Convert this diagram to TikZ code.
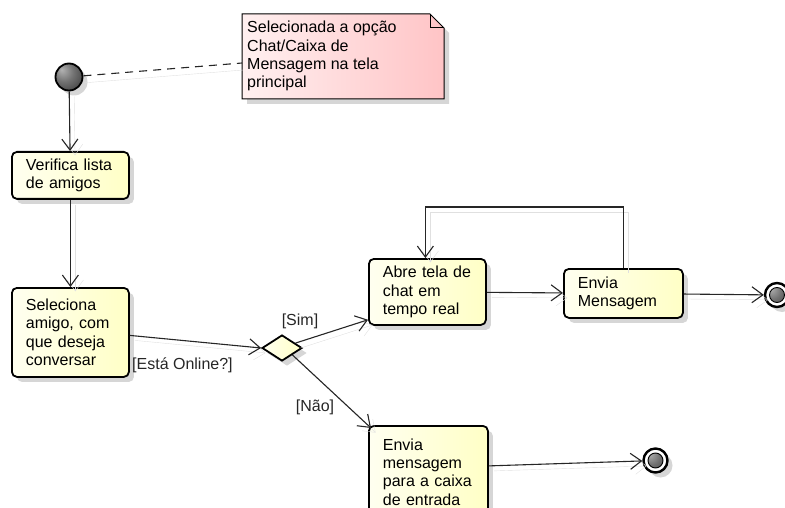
\documentclass[tikz,border=0pt]{standalone}
\usepackage{fontspec}
\setmainfont{Liberation Sans}
\usetikzlibrary{arrows.meta,shapes.geometric,shadows}

\definecolor{actLeft}{RGB}{255,255,240}
\definecolor{actRight}{RGB}{255,255,198}
\definecolor{noteLeft}{RGB}{255,240,240}
\definecolor{noteRight}{RGB}{255,196,198}

% grey sphere lit from the upper left, without a white highlight
\pgfdeclareradialshading{greyball}{\pgfpoint{-14bp}{14bp}}{%
  color(0bp)=(black!30);
  color(18bp)=(black!55);
  color(42bp)=(black!80);
  color(60bp)=(black!88)}

\begin{document}
\begin{tikzpicture}[x=1pt,y=-1pt,
  font=\fontsize{16}{18.4}\selectfont,
  softshadow/.style={drop shadow={shadow xshift=5pt,shadow yshift=-5pt,fill=black!16,opacity=1}},
  action/.style={draw=black,line width=1.8pt,rounded corners=5pt,
    left color=actLeft,right color=actRight,softshadow,
    align=left,inner xsep=14pt,inner ysep=0pt,anchor=north west},
  decision/.style={diamond,draw=black,line width=1.8pt,inner sep=0pt,
    minimum width=40pt,minimum height=26pt,
    left color=actLeft,right color=actRight,softshadow},
  initial/.style={circle,draw=black,line width=1.8pt,inner sep=0pt,
    minimum size=27pt,shading=greyball,softshadow},
  final/.style={circle,draw=black,line width=2.4pt,inner sep=0pt,
    minimum size=24pt,fill=white,softshadow,
    path picture={\shade[shading=greyball]
      (path picture bounding box.center) circle (7.5pt);
      \draw[line width=0.9pt] (path picture bounding box.center) circle (7.5pt);}},
  flow/.style={draw=black!85,line width=1.1pt,
    -{Straight Barb[length=11pt,width=16pt]},
    preaction={draw=black!12,solid,transform canvas={shift={(5pt,-5pt)}}}},
  anchorline/.style={draw=black!85,line width=1.1pt,dash pattern=on 8pt off 6pt,
    preaction={draw=black!12,solid,transform canvas={shift={(1pt,-7pt)}}}},
  guard/.style={inner sep=0pt,text=black!85}
]
\useasboundingbox (0,0) rectangle (785,508);

% comment note with folded corner
\path[draw=black,line width=1pt,left color=noteLeft,right color=noteRight,softshadow]
  (242,14) -- (430,14) -- (444,28) -- (444,99) -- (242,99) -- cycle;
\draw[line width=1pt] (430,14) -- (430,28) -- (444,28);
\node[anchor=north west,align=left,inner sep=0pt] (note) at (247,21)
  {Selecionada a opção\\Chat/Caixa de\\Mensagem na tela\\principal};
\coordinate (noteL) at (242,63);

% start and end points
\node[initial] (ini) at (69,77) {};
\node[final] (fin1) at (777,295) {};
\node[final] (fin2) at (655.5,460.5) {};

% activities
\node[action,text width=89pt,minimum height=47pt] (ver) at (11,151)
  {Verifica lista\\de amigos};
\node[action,text width=89pt,minimum height=89pt] (sel) at (11,287)
  {Seleciona\\amigo, com\\que deseja\\conversar};
\node[action,text width=89pt,minimum height=66pt] (abre) at (368,258)
  {Abre tela de\\chat em\\tempo real};
\node[action,text width=91pt,minimum height=49pt] (env) at (563,268)
  {Envia\\Mensagem};
\node[action,text width=91pt,minimum height=92pt] (bot) at (368,425)
  {Envia\\mensagem\\para a caixa\\de entrada};

% decision
\node[decision] (dia) at (282,348) {};

% guards
\node[guard,anchor=west] (lon) at (132,365) {[Está Online?]};
\node[guard] (lsim) at (300,321) {[Sim]};
\node[guard] (lnao) at (315,407) {[Não]};

% connectors
\draw[anchorline] (ini) -- (noteL);
\draw[flow] (ini) -- (ver);
\draw[flow] (ver) -- (sel);
\draw[flow] ([yshift=-3pt]sel.east) -- (dia.west);
\draw[flow] (dia.20) -- ([yshift=6pt]abre.south west);
\draw[flow] (dia.south east) -- ([xshift=3pt,yshift=-3pt]bot.north west);
\draw[flow] (abre) -- (env);
\draw[flow] (env.north) -- ++(0,-61) -| ([xshift=-2pt]abre.north);
\draw[flow] (env) -- (fin1);
\draw[flow] ([yshift=6pt]bot.east) -- (fin2);
\end{tikzpicture}
\end{document}
